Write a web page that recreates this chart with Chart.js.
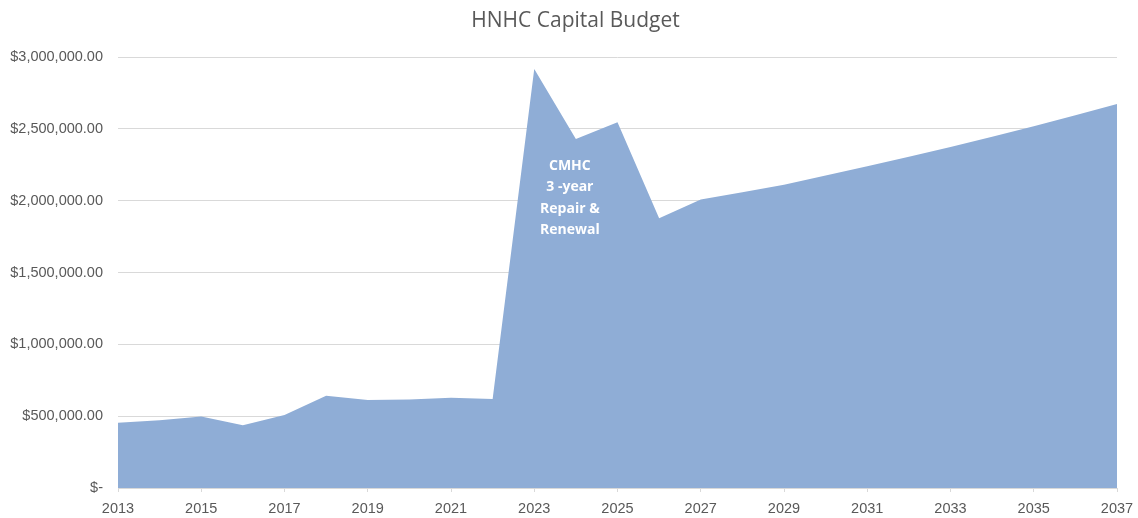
<!DOCTYPE html>
<html>
<head>
<meta charset="utf-8">
<script src="https://cdn.jsdelivr.net/npm/chart.js@4/dist/chart.umd.min.js"></script>
<style>
    html, body { margin: 0; padding: 0; background: #ffffff; }
    #wrap { position: relative; width: 1138px; height: 518px; }
</style>
</head>
<body>
<div id="wrap"><canvas id="budgetChart"></canvas></div>
<script>
// Data
const years = ['2013', '2014', '2015', '2016', '2017', '2018', '2019', '2020', '2021', '2022', '2023', '2024', '2025',
    '2026', '2027', '2028', '2029', '2030', '2031', '2032', '2033', '2034', '2035', '2036', '2037'];
const budget = [455000, 472000, 498000, 436000, 508000, 642000, 612000, 616000, 628000, 619000, 2916000, 2429000, 2545000,
    1877000, 2008000, 2058000, 2110000, 2175000, 2240000, 2306000, 2374000, 2445000, 2518000, 2594000, 2673000];
const yTicks = [0, 500000, 1000000, 1500000, 2000000, 2500000, 3000000];
const titleText = 'HNHC Capital Budget';
const noteLines = ['CMHC', '3 -year', 'Repair &', 'Renewal'];
const noteYear = '2024';
const noteValue = 2018000;

const grey = '#595959';
const gridGrey = '#d9d9d9';

function money(v) {
    if (v === 0) return '$-';
    return '$' + v.toLocaleString('en-US', { minimumFractionDigits: 2, maximumFractionDigits: 2 });
}

// title sits a bit right of the canvas centre, like the original
const titlePlugin = {
    id: 'ownTitle',
    afterDraw(chart) {
        const { ctx } = chart;
        ctx.save();
        ctx.fillStyle = grey;
        ctx.font = '21px "Open Sans", sans-serif';
        ctx.textAlign = 'center';
        ctx.textBaseline = 'middle';
        ctx.fillText(titleText, 575.5, 21);
        ctx.restore();
    }
};

// white bold text placed inside the spike
const notePlugin = {
    id: 'note',
    afterDatasetsDraw(chart) {
        const { ctx, scales } = chart;
        const x = scales.x.getPixelForValue(years.indexOf(noteYear)) - 6;
        const y = scales.y.getPixelForValue(noteValue);
        ctx.save();
        ctx.fillStyle = '#ffffff';
        ctx.font = 'bold 14px "Open Sans", sans-serif';
        ctx.textAlign = 'center';
        ctx.textBaseline = 'middle';
        const lh = 21.5;
        const start = y - lh * (noteLines.length - 1) / 2;
        noteLines.forEach((t, i) => ctx.fillText(t, x, start + i * lh));
        ctx.restore();
    }
};

const ctx = document.getElementById('budgetChart').getContext('2d');
new Chart(ctx, {
    type: 'line',
    data: {
        labels: years,
        datasets: [{
            label: 'Budget',
            data: budget,
            fill: 'origin',
            backgroundColor: '#8fadd6',
            borderWidth: 0,
            borderColor: 'rgba(0,0,0,0)',
            pointRadius: 0,
            tension: 0
        }]
    },
    options: {
        responsive: true,
        maintainAspectRatio: false,
        animation: false,
        layout: { padding: { left: 0, right: 21, top: 57, bottom: 0 } },
        plugins: {
            legend: { display: false },
            tooltip: { enabled: false },
            title: { display: false }
        },
        scales: {
            x: {
                offset: false,
                afterFit: (scale) => {
                    scale.height = 30;
                    scale.paddingLeft = 0;
                    scale.paddingRight = 0;
                },
                grid: {
                    drawOnChartArea: false,
                    drawTicks: true,
                    tickLength: 4,
                    color: (c) => (c.index % 2 === 0 ? gridGrey : 'rgba(0,0,0,0)')
                },
                border: { display: true, color: gridGrey },
                ticks: {
                    autoSkip: false,
                    maxRotation: 0,
                    color: grey,
                    padding: 8,
                    font: { family: '"Liberation Sans", Arial, sans-serif', size: 14.5 },
                    callback: (v, i) => (i % 2 === 0 ? years[i] : '')
                }
            },
            y: {
                min: 0,
                max: 3000000,
                afterBuildTicks: (scale) => { scale.ticks = yTicks.map(v => ({ value: v })); },
                afterFit: (scale) => { scale.width = 118; },
                grid: { color: gridGrey, drawTicks: false },
                border: { display: false },
                ticks: {
                    color: grey,
                    padding: 15,
                    font: { family: '"Liberation Sans", Arial, sans-serif', size: 14.5 },
                    callback: (v) => money(v)
                }
            }
        }
    },
    plugins: [notePlugin, titlePlugin]
});
</script>
</body>
</html>
